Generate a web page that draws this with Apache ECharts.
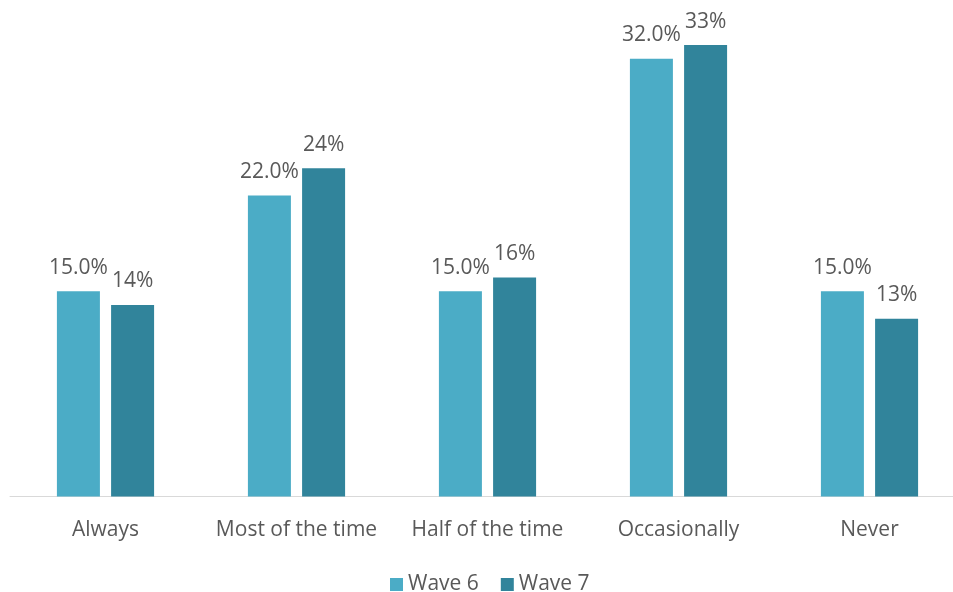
<!DOCTYPE html>
<html>
<head>
<meta charset="utf-8">
<script src="https://cdn.jsdelivr.net/npm/echarts@6/dist/echarts.min.js"></script>
<style>
  html, body { margin: 0; padding: 0; background: #fff; }
  #main { width: 953px; height: 592px; }
</style>
</head>
<body>
<div id="main"></div>
<script>
const categories = ['Always', 'Most of the time', 'Half of the time', 'Occasionally', 'Never']
const wave6 = [15, 22, 15, 32, 15]
const wave7 = [14, 24, 16, 33, 13]
const seriesNames = ['Wave 6', 'Wave 7']

const chart = echarts.init(document.getElementById('main'))

const labelStyle = {
  show: true,
  position: 'top',
  distance: 13,
  color: '#595959',
  fontSize: 21,
  fontFamily: 'Open Sans'
}

chart.setOption({
  animation: false,
  color: ['#4bacc6', '#31849b'],
  grid: {
    left: 10,
    width: 955,
    top: 4,
    bottom: 95.5,
    containLabel: false,
    outerBoundsMode: 'none'
  },
  legend: {
    left: 385,
    top: 569,
    itemWidth: 13,
    itemHeight: 13,
    itemGap: 22,
    icon: 'rect',
    textStyle: { color: '#595959', fontSize: 21, fontFamily: 'Open Sans' },
    data: seriesNames
  },
  xAxis: {
    type: 'category',
    data: categories,
    axisTick: { show: false },
    axisLine: { lineStyle: { color: '#d9d9d9', width: 1 } },
    axisLabel: {
      interval: 0,
      color: '#595959',
      fontSize: 21,
      fontFamily: 'Open Sans',
      margin: 23
    }
  },
  yAxis: {
    type: 'value',
    min: 0,
    max: 36,
    show: false,
    splitLine: { show: false }
  },
  series: [
    {
      name: seriesNames[0],
      type: 'bar',
      data: wave6,
      barWidth: 43,
      barGap: '26%',
      label: Object.assign({}, labelStyle, { formatter: p => p.value.toFixed(1) + '%' })
    },
    {
      name: seriesNames[1],
      type: 'bar',
      data: wave7,
      barWidth: 43,
      label: Object.assign({}, labelStyle, { formatter: p => p.value + '%' })
    }
  ]
})
</script>
</body>
</html>
